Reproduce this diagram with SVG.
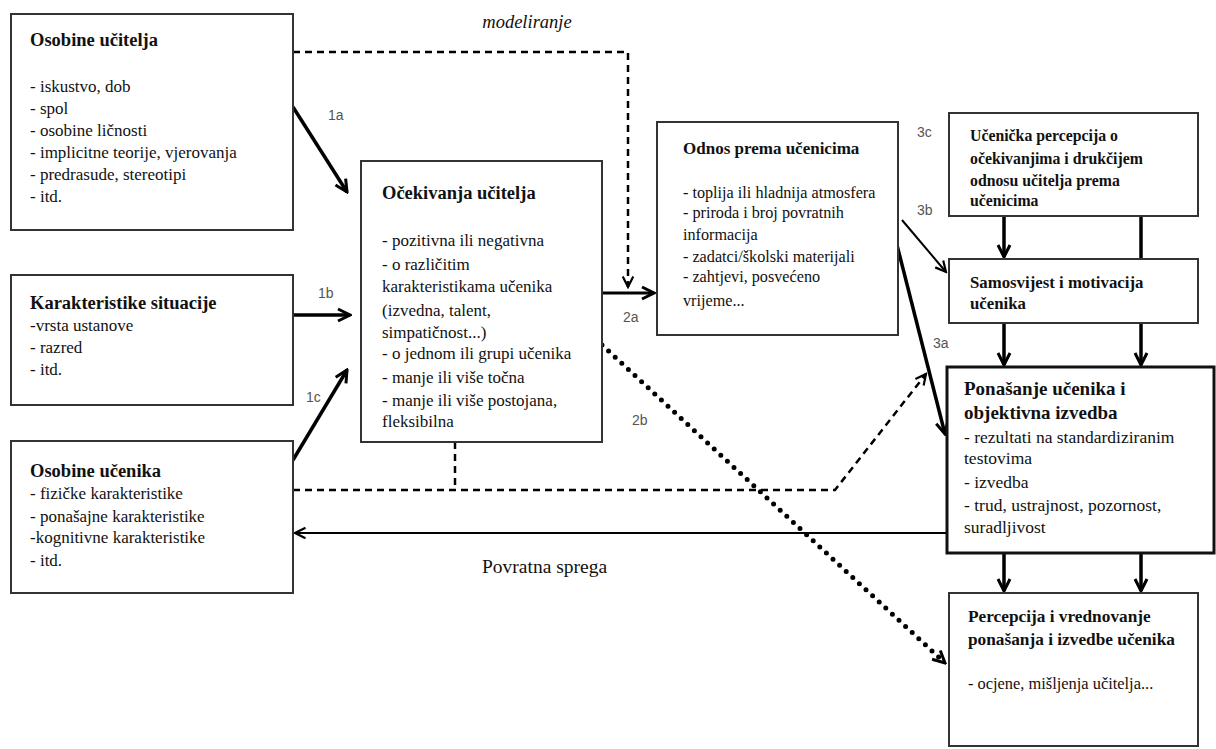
<svg xmlns="http://www.w3.org/2000/svg" width="1216" height="749" viewBox="0 0 1216 749">
<style>
.box{fill:#fff;stroke:#333;stroke-width:2}
.t{font-family:"Liberation Serif","Times New Roman",serif;fill:#111;font-size:17px}
.b{font-weight:bold;font-size:18.5px}
.lab{font-family:"Liberation Sans",Arial,sans-serif;fill:#555;font-size:14px}
.c{fill:none;stroke:#000}
</style>
<defs>
<marker id="arr" viewBox="0 0 16 16" refX="14" refY="8" markerWidth="16" markerHeight="16" markerUnits="userSpaceOnUse" orient="auto">
<path d="M2,2 L14,8 L2,14" fill="none" stroke="#000" stroke-width="3" stroke-linejoin="miter"/>
</marker>
<marker id="arrs" viewBox="0 0 16 16" refX="14" refY="8" markerWidth="14" markerHeight="14" markerUnits="userSpaceOnUse" orient="auto">
<path d="M2,2 L14,8 L2,14" fill="none" stroke="#000" stroke-width="2.5"/>
</marker>
</defs>
<rect width="1216" height="749" fill="#fff"/>

<g id="connectors">
<path class="c" d="M293,52 L628,52 L628,287" stroke-width="2.5" stroke-dasharray="7 5" marker-end="url(#arrs)"/>
<path class="c" d="M293,107 L347,192" stroke-width="3.5" marker-end="url(#arr)"/>
<path class="c" d="M293,315 L350,315" stroke-width="3.5" marker-end="url(#arr)"/>
<path class="c" d="M293,460 L347,370" stroke-width="3.5" marker-end="url(#arr)"/>
<path class="c" d="M602,293 L654,293" stroke-width="3" marker-end="url(#arr)"/>
<path class="c" d="M602,345 L945,663" stroke-width="5" stroke-dasharray="0 9" stroke-linecap="round" marker-end="url(#arr)"/>
<path class="c" d="M902,220 L946,272" stroke-width="2" marker-end="url(#arrs)"/>
<path class="c" d="M897,245 L945,434" stroke-width="3.5" marker-end="url(#arr)"/>
<path class="c" d="M293,490 L835,490 L926,374" stroke-width="2.5" stroke-dasharray="7 5" marker-end="url(#arrs)"/>
<path class="c" d="M455,442 L455,490" stroke-width="2.5" stroke-dasharray="7 5"/>
<path class="c" d="M947,533 L295,533" stroke-width="2" marker-end="url(#arrs)"/>
<path class="c" d="M1004,216 L1004,257" stroke-width="3.5" marker-end="url(#arr)"/>
<path class="c" d="M1141,216 L1141,259" stroke-width="3.5"/>
<path class="c" d="M1004,323 L1004,365" stroke-width="3.5" marker-end="url(#arr)"/>
<path class="c" d="M1141,323 L1141,365" stroke-width="3.5" marker-end="url(#arr)"/>
<path class="c" d="M1004,553 L1004,591" stroke-width="3.5" marker-end="url(#arr)"/>
<path class="c" d="M1141,553 L1141,591" stroke-width="3.5" marker-end="url(#arr)"/>
<text class="t" x="527" y="28" text-anchor="middle" font-style="italic" style="font-size:18.5px">modeliranje</text>
<text class="lab" x="328" y="120">1a</text>
<text class="lab" x="318" y="298">1b</text>
<text class="lab" x="306" y="402">1c</text>
<text class="lab" x="623" y="322">2a</text>
<text class="lab" x="632" y="425">2b</text>
<text class="lab" x="933" y="348">3a</text>
<text class="lab" x="917" y="215">3b</text>
<text class="lab" x="917" y="137">3c</text>
<text class="t" x="482" y="573" style="font-size:19.5px">Povratna sprega</text>
</g>

<g id="osobine-ucitelja">
<rect class="box" x="11" y="14" width="282" height="216"/>
<text class="t b" x="30" y="46">Osobine učitelja</text>
<text class="t" x="30" y="92">- iskustvo, dob</text>
<text class="t" x="30" y="114">- spol</text>
<text class="t" x="30" y="136">- osobine ličnosti</text>
<text class="t" x="30" y="158">- implicitne teorije, vjerovanja</text>
<text class="t" x="30" y="180">- predrasude, stereotipi</text>
<text class="t" x="30" y="202">- itd.</text>
</g>

<g id="karakteristike-situacije">
<rect class="box" x="11" y="275" width="282" height="130"/>
<text class="t b" x="30" y="309">Karakteristike situacije</text>
<text class="t" x="30" y="331">-vrsta ustanove</text>
<text class="t" x="30" y="353">- razred</text>
<text class="t" x="30" y="375">- itd.</text>
</g>

<g id="osobine-ucenika">
<rect class="box" x="11" y="441" width="282" height="152"/>
<text class="t b" x="30" y="477">Osobine učenika</text>
<text class="t" x="30" y="499">- fizičke karakteristike</text>
<text class="t" x="30" y="522">- ponašajne karakteristike</text>
<text class="t" x="30" y="543">-kognitivne karakteristike</text>
<text class="t" x="30" y="566">- itd.</text>
</g>

<g id="ocekivanja-ucitelja">
<rect class="box" x="361" y="161" width="241" height="281"/>
<text class="t b" x="382" y="199">Očekivanja učitelja</text>
<text class="t" x="382" y="246">- pozitivna ili negativna</text>
<text class="t" x="382" y="270">- o različitim</text>
<text class="t" x="382" y="292">karakteristikama učenika</text>
<text class="t" x="382" y="316">(izvedna, talent,</text>
<text class="t" x="382" y="338">simpatičnost...)</text>
<text class="t" x="382" y="359">- o jednom ili grupi učenika</text>
<text class="t" x="382" y="383">- manje ili više točna</text>
<text class="t" x="382" y="406">- manje ili više postojana,</text>
<text class="t" x="382" y="427">fleksibilna</text>
</g>

<g id="odnos-prema-ucenicima">
<rect class="box" x="657" y="122" width="241" height="213"/>
<text class="t b" x="683" y="154" style="font-size:17px">Odnos prema učenicima</text>
<text class="t" x="683" y="198" style="font-size:16.2px">- toplija ili hladnija atmosfera</text>
<text class="t" x="683" y="218" style="font-size:16.2px">- priroda i broj povratnih</text>
<text class="t" x="683" y="240" style="font-size:16.2px">informacija</text>
<text class="t" x="683" y="262" style="font-size:16.2px">- zadatci/školski materijali</text>
<text class="t" x="683" y="282" style="font-size:16.2px">- zahtjevi, posvećeno</text>
<text class="t" x="683" y="306" style="font-size:16.2px">vrijeme...</text>
</g>

<g id="ucenicka-percepcija">
<rect class="box" x="949" y="113" width="249" height="103"/>
<text class="t b" x="970" y="141" style="font-size:15.8px">Učenička percepcija o</text>
<text class="t b" x="970" y="164" style="font-size:15.8px">očekivanjima i drukčijem</text>
<text class="t b" x="970" y="186" style="font-size:15.8px">odnosu učitelja prema</text>
<text class="t b" x="970" y="206" style="font-size:15.8px">učenicima</text>
</g>

<g id="samosvijest">
<rect class="box" x="949" y="259" width="249" height="64"/>
<text class="t b" x="970" y="288" style="font-size:16.8px">Samosvijest i motivacija</text>
<text class="t b" x="970" y="309" style="font-size:16.8px">učenika</text>
</g>

<g id="ponasanje-ucenika">
<rect class="box" x="947" y="367" width="267" height="186" style="stroke-width:3;stroke:#111"/>
<text class="t b" x="964" y="395" style="font-size:19px">Ponašanje učenika i</text>
<text class="t b" x="964" y="419" style="font-size:19px">objektivna izvedba</text>
<text class="t" x="964" y="443" style="font-size:17.5px">- rezultati na standardiziranim</text>
<text class="t" x="964" y="464" style="font-size:17.5px">testovima</text>
<text class="t" x="964" y="488" style="font-size:17.5px">- izvedba</text>
<text class="t" x="964" y="511" style="font-size:17.5px">- trud, ustrajnost, pozornost,</text>
<text class="t" x="964" y="533" style="font-size:17.5px">suradljivost</text>
</g>

<g id="percepcija-vrednovanje">
<rect class="box" x="949" y="593" width="249" height="153"/>
<text class="t b" x="968" y="622" style="font-size:17.3px">Percepcija i vrednovanje</text>
<text class="t b" x="968" y="645" style="font-size:17.3px">ponašanja i izvedbe učenika</text>
<text class="t" x="968" y="689" style="font-size:16.4px">- ocjene, mišljenja učitelja...</text>
</g>
</svg>
